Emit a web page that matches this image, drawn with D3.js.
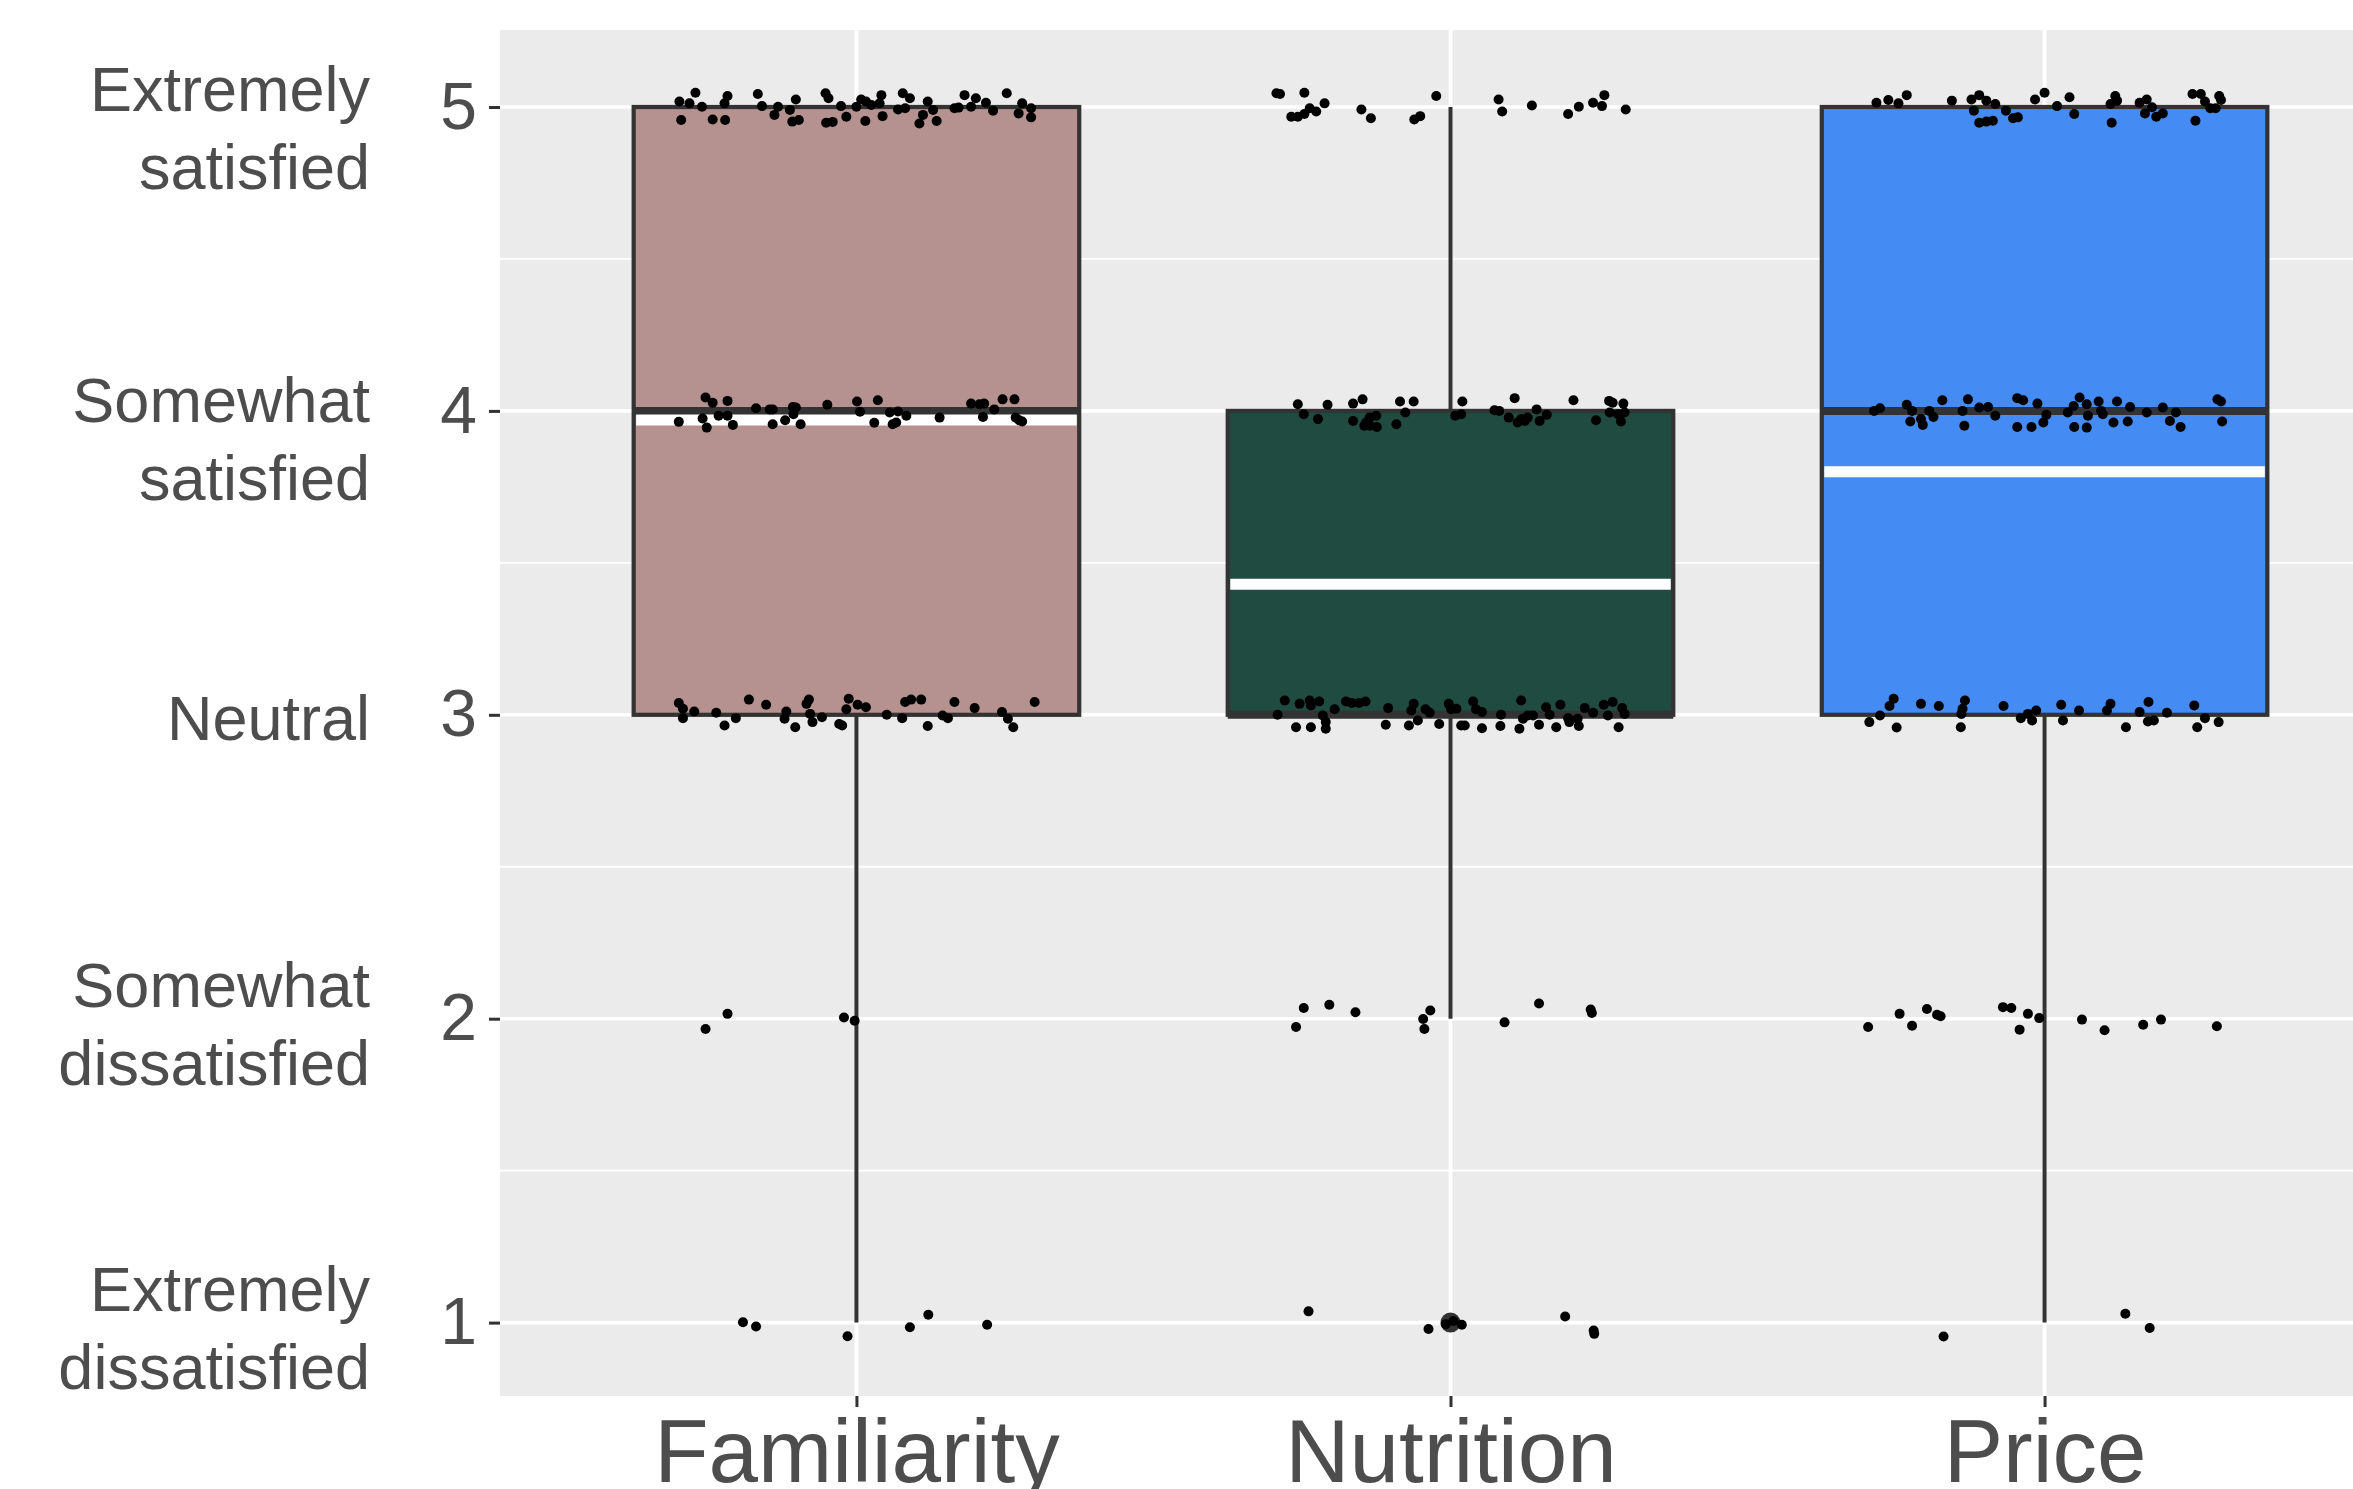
<!DOCTYPE html>
<html><head><meta charset="utf-8">
<script src="https://cdn.jsdelivr.net/npm/d3@7"></script>
<style>
html,body{margin:0;padding:0;background:#fff;overflow:hidden;}
svg{display:block;}
text{font-family:"Liberation Sans",Arial,Helvetica,sans-serif;}
</style>
</head><body>
<svg id="chart" width="2353" height="1489"></svg>
<script>
// ---------------- data ----------------
const categories = ["Familiarity", "Nutrition", "Price"];
const lowerHinge = [3, 3, 3];
const medians    = [4, 3, 4];
const upperHinge = [5, 4, 5];
const whiskerLow = [1, 2, 1];
const whiskerHigh= [5, 5, 5];
const means      = [3.97, 3.43, 3.80];
const outliers   = [[], [1], []];

const yTicks = [1, 2, 3, 4, 5];
const yMinorTicks = [1.5, 2.5, 3.5, 4.5];
const yTickNames = [
  ["Extremely", "dissatisfied"],
  ["Somewhat", "dissatisfied"],
  ["Neutral"],
  ["Somewhat", "satisfied"],
  ["Extremely", "satisfied"]
];

// jittered responses: [horizontal jitter (category units), jittered rating]
const familiarityPoints = [
 [-0.298,5.018],[-0.281,5.012],[-0.271,5.047],[-0.260,5.001],[-0.295,4.957],[-0.242,4.959],[-0.221,4.957],[-0.222,5.012],[-0.217,5.036],[-0.166,5.043],[-0.159,5.003],[-0.138,4.974],[-0.132,5.001],[-0.112,4.990],[-0.102,5.025],[-0.108,4.952],[-0.097,4.957],[-0.052,5.045],[-0.047,5.029],[-0.051,4.948],[-0.040,4.951],[-0.026,5.003],[-0.017,4.968],[0.000,5.001],[0.008,5.025],[0.016,5.018],[0.025,5.007],[0.015,4.954],[0.042,5.039],[0.039,5.012],[0.044,4.970],[0.070,4.992],[0.078,5.045],[0.082,4.996],[0.090,5.029],[0.106,4.946],[0.112,4.974],[0.120,5.018],[0.129,4.990],[0.135,4.954],[0.165,4.996],[0.172,4.998],[0.182,5.039],[0.193,5.001],[0.201,5.029],[0.218,5.014],[0.230,4.988],[0.253,5.045],[0.273,4.979],[0.279,5.012],[0.294,4.996],[0.294,4.966],
 [-0.254,4.044],[-0.242,4.027],[-0.217,4.033],[-0.299,3.964],[-0.259,3.975],[-0.252,3.945],[-0.232,3.984],[-0.217,3.984],[-0.208,3.954],[-0.169,4.009],[-0.146,4.005],[-0.141,4.005],[-0.141,3.956],[-0.120,3.969],[-0.107,4.013],[-0.102,4.011],[-0.106,3.989],[-0.094,3.956],[-0.049,4.020],[0.001,4.031],[0.006,3.997],[0.036,4.035],[0.030,3.961],[0.056,3.995],[0.061,3.956],[0.067,3.962],[0.070,3.998],[0.084,3.984],[0.140,3.978],[0.193,4.024],[0.207,4.022],[0.215,4.024],[0.213,3.980],[0.232,4.005],[0.246,4.038],[0.266,4.038],[0.268,3.978],[0.274,3.969],[0.279,3.965],
 [-0.299,3.039],[-0.292,3.020],[-0.292,2.989],[-0.273,3.011],[-0.236,3.007],[-0.222,2.965],[-0.203,2.989],[-0.181,3.050],[-0.152,3.033],[-0.118,3.011],[-0.121,2.987],[-0.103,2.959],[-0.080,3.050],[-0.084,3.036],[-0.078,3.003],[-0.074,2.976],[-0.058,2.992],[-0.029,2.970],[-0.024,2.965],[-0.013,3.053],[-0.017,3.018],[0.002,3.033],[0.016,3.025],[0.051,3.000],[0.077,2.989],[0.082,3.042],[0.092,3.050],[0.109,3.050],[0.120,2.963],[0.145,2.998],[0.154,2.989],[0.165,3.042],[0.199,3.022],[0.245,3.009],[0.255,2.987],[0.264,2.959],[0.300,3.042],
 [-0.254,1.966],[-0.217,2.016],[-0.021,2.004],[-0.003,1.993],
 [-0.191,1.001],[-0.169,0.987],[-0.015,0.955],[0.090,0.985],[0.121,1.026],[0.220,0.993]
];
const nutritionPoints = [
 [-0.293,5.045],[-0.287,5.043],[-0.246,5.047],[-0.268,4.968],[-0.257,4.968],[-0.246,4.977],[-0.237,4.996],[-0.226,4.985],[-0.212,5.012],[-0.150,4.992],[-0.134,4.963],[-0.061,4.959],[-0.051,4.970],[-0.024,5.036],[0.081,5.025],[0.087,4.985],[0.137,5.005],[0.198,4.977],[0.216,5.001],[0.240,5.014],[0.255,5.003],[0.259,5.039],[0.295,4.992],
 [-0.257,4.022],[-0.247,3.989],[-0.223,3.973],[-0.207,4.020],[-0.164,4.024],[-0.148,4.038],[-0.164,3.967],[-0.142,3.962],[-0.136,3.978],[-0.125,3.984],[-0.145,3.951],[-0.136,3.951],[-0.124,3.947],[-0.091,3.956],[-0.085,4.031],[-0.076,3.995],[-0.062,4.031],[0.008,3.984],[0.018,3.989],[0.020,4.031],[0.074,4.002],[0.082,4.000],[0.098,3.978],[0.108,4.042],[0.113,3.962],[0.119,3.973],[0.125,3.967],[0.130,3.978],[0.145,4.005],[0.150,3.967],[0.162,3.987],[0.207,4.035],[0.245,3.969],[0.267,4.033],[0.273,4.027],[0.291,4.024],[0.268,3.995],[0.282,3.989],[0.293,3.995],[0.287,3.965],
 [-0.279,3.047],[-0.291,3.000],[-0.260,2.959],[-0.254,3.036],[-0.237,3.047],[-0.235,3.031],[-0.221,3.044],[-0.235,2.959],[-0.215,2.998],[-0.210,2.976],[-0.210,2.954],[-0.195,3.018],[-0.176,3.044],[-0.166,3.039],[-0.154,3.039],[-0.143,3.044],[-0.109,2.967],[-0.105,3.022],[-0.070,2.965],[-0.066,3.014],[-0.062,3.036],[-0.055,2.981],[-0.042,3.018],[-0.035,3.007],[-0.019,2.970],[-0.003,3.036],[0.001,3.018],[0.010,3.020],[0.018,2.965],[0.024,2.965],[0.038,3.044],[0.043,3.018],[0.053,3.009],[0.053,2.956],[0.084,2.963],[0.085,3.000],[0.116,2.954],[0.119,3.047],[0.122,2.987],[0.130,2.998],[0.139,2.998],[0.149,2.967],[0.161,3.025],[0.167,3.000],[0.178,2.959],[0.185,3.033],[0.198,2.989],[0.200,2.976],[0.214,2.987],[0.216,2.963],[0.226,3.022],[0.240,3.007],[0.258,3.033],[0.265,2.998],[0.273,3.042],[0.283,2.959],[0.289,3.022],[0.293,3.003],
 [-0.247,2.035],[-0.204,2.046],[-0.160,2.021],[-0.260,1.973],[-0.046,1.999],[-0.034,2.027],[-0.044,1.966],[0.091,1.988],[0.149,2.050],[0.236,2.030],[0.238,2.019],
 [-0.239,1.037],[-0.037,0.979],[0.019,0.993],[0.193,1.020],[0.241,0.974],[0.242,0.963],[0.005,1.005],[-0.008,0.995]
];
const pricePoints = [
 [-0.283,5.014],[-0.263,5.023],[-0.246,5.012],[-0.232,5.039],[-0.156,5.021],[-0.123,5.025],[-0.110,5.039],[-0.119,4.988],[-0.098,5.021],[-0.083,5.010],[-0.065,4.988],[-0.110,4.948],[-0.098,4.952],[-0.087,4.955],[-0.053,4.963],[-0.045,4.966],[-0.016,5.025],[0.000,5.047],[0.021,5.003],[0.042,5.032],[0.050,4.977],[0.111,5.010],[0.119,5.036],[0.122,5.021],[0.113,4.948],[0.160,5.014],[0.172,5.025],[0.169,4.979],[0.181,4.999],[0.188,4.968],[0.199,4.979],[0.249,5.043],[0.263,5.043],[0.270,5.018],[0.279,4.996],[0.288,4.996],[0.294,5.036],[0.297,5.023],[0.254,4.955],
 [-0.287,4.000],[-0.277,4.009],[-0.232,4.020],[-0.223,4.000],[-0.226,3.965],[-0.208,3.973],[-0.205,3.954],[-0.194,4.000],[-0.187,3.980],[-0.172,4.035],[-0.138,4.000],[-0.129,4.038],[-0.135,3.951],[-0.110,4.011],[-0.095,4.013],[-0.083,3.984],[-0.046,4.042],[-0.036,4.035],[-0.012,4.024],[-0.046,3.947],[-0.022,3.947],[-0.002,3.962],[0.003,3.987],[0.039,3.995],[0.049,4.016],[0.059,4.044],[0.071,4.022],[0.073,3.984],[0.050,3.947],[0.071,3.945],[0.091,4.031],[0.095,4.000],[0.098,3.989],[0.122,4.031],[0.116,3.962],[0.140,3.965],[0.144,4.013],[0.172,3.995],[0.199,4.011],[0.221,3.995],[0.211,3.967],[0.229,3.947],[0.291,4.038],[0.297,4.031],[0.299,3.965],
 [-0.295,2.976],[-0.277,2.998],[-0.261,3.029],[-0.254,3.053],[-0.249,2.958],[-0.208,3.036],[-0.178,3.029],[-0.141,2.959],[-0.140,3.003],[-0.138,3.020],[-0.134,3.047],[-0.069,3.029],[-0.040,2.989],[-0.028,3.003],[-0.021,2.981],[-0.014,3.014],[0.028,3.033],[0.031,2.981],[0.058,3.014],[0.105,3.014],[0.111,3.036],[0.137,2.959],[0.160,3.009],[0.175,3.042],[0.174,2.978],[0.184,2.981],[0.206,3.007],[0.252,3.031],[0.257,2.959],[0.270,2.989],[0.293,2.976],
 [-0.297,1.973],[-0.244,2.016],[-0.223,1.977],[-0.198,2.032],[-0.181,2.013],[-0.175,2.008],[-0.070,2.038],[-0.056,2.035],[-0.042,1.964],[-0.028,2.016],[-0.009,2.002],[0.063,1.997],[0.101,1.962],[0.166,1.980],[0.196,1.997],[0.290,1.975],
 [-0.170,0.954],[0.136,1.029],[0.177,0.982]
];
const pointSets = [familiarityPoints, nutritionPoints, pricePoints];

// ---------------- style ----------------
const boxFills = ["#B5918F", "#1F4B40", "#448CF4"];
const boxLine = "#333333";
const panelBg = "#EBEBEB";
const textCol = "#4D4D4D";

// ---------------- layout ----------------
const svg = d3.select("#chart");
const panel = {left: 500, top: 30, bottom: 1396};
const x = d3.scaleLinear().domain([0.4, 3.6]).range([500, 2401]);
const y = d3.scaleLinear().domain([0.7585, 5.2534]).range([panel.bottom, panel.top]);
const unit = x(2) - x(1);
const hw = unit * 0.375;

svg.append("rect").attr("x", panel.left).attr("y", panel.top)
  .attr("width", x(3.6) - panel.left).attr("height", panel.bottom - panel.top)
  .attr("fill", panelBg);

const grid = svg.append("g");
grid.selectAll(".minor").data(yMinorTicks).join("line")
  .attr("x1", panel.left).attr("x2", x(3.6))
  .attr("y1", d => y(d)).attr("y2", d => y(d))
  .attr("stroke", "#fff").attr("stroke-width", 1.8);
grid.selectAll(".major").data(yTicks).join("line")
  .attr("x1", panel.left).attr("x2", x(3.6))
  .attr("y1", d => y(d)).attr("y2", d => y(d))
  .attr("stroke", "#fff").attr("stroke-width", 3.6);
grid.selectAll(".vmajor").data(categories).join("line")
  .attr("x1", (d, i) => x(i + 1)).attr("x2", (d, i) => x(i + 1))
  .attr("y1", panel.top).attr("y2", panel.bottom)
  .attr("stroke", "#fff").attr("stroke-width", 3.8);

// boxes
const boxes = svg.append("g");
categories.forEach((c, i) => {
  const cx = x(i + 1);
  const g = boxes.append("g");
  g.append("line").attr("x1", cx).attr("x2", cx)
    .attr("y1", y(upperHinge[i])).attr("y2", y(whiskerHigh[i]))
    .attr("stroke", boxLine).attr("stroke-width", 4);
  g.append("line").attr("x1", cx).attr("x2", cx)
    .attr("y1", y(lowerHinge[i])).attr("y2", y(whiskerLow[i]))
    .attr("stroke", boxLine).attr("stroke-width", 4);
  g.append("rect").attr("x", cx - hw).attr("width", 2 * hw)
    .attr("y", y(upperHinge[i])).attr("height", y(lowerHinge[i]) - y(upperHinge[i]))
    .attr("fill", boxFills[i]).attr("stroke", boxLine).attr("stroke-width", 4.2);
  g.append("line").attr("x1", cx - hw).attr("x2", cx + hw)
    .attr("y1", y(medians[i])).attr("y2", y(medians[i]))
    .attr("stroke", boxLine).attr("stroke-width", 8);
  g.selectAll(".out").data(outliers[i]).join("circle")
    .attr("cx", cx).attr("cy", d => y(d)).attr("r", 10).attr("fill", boxLine);
  g.append("line").attr("x1", cx - hw + 2.5).attr("x2", cx + hw - 2.5)
    .attr("y1", y(means[i])).attr("y2", y(means[i]))
    .attr("stroke", "#fff").attr("stroke-width", 11);
});

// jittered points
const pts = svg.append("g");
pointSets.forEach((set, i) => {
  pts.append("g").selectAll("circle").data(set).join("circle")
    .attr("cx", d => x(i + 1 + d[0])).attr("cy", d => y(d[1]))
    .attr("r", 5).attr("fill", "#000");
});

// y axis
const yAxis = svg.append("g").attr("transform", `translate(${panel.left},0)`)
  .call(d3.axisLeft(y).tickValues(yTicks).tickSize(11).tickPadding(12).tickFormat(d3.format("d")));
yAxis.select(".domain").remove();
yAxis.selectAll(".tick line").attr("stroke", boxLine).attr("stroke-width", 3);
yAxis.selectAll(".tick text").attr("fill", textCol).attr("font-size", 66)
  .attr("font-family", '"Liberation Sans", Arial, sans-serif');

// rating names
const nameShift = [-12, -12, 25, 11, 4];
const names = svg.append("g");
yTicks.forEach((v, i) => {
  const t = names.append("text").attr("text-anchor", "end")
    .attr("font-size", 63).attr("fill", textCol);
  yTickNames[i].forEach((line, k) => {
    t.append("tspan").attr("x", 370).attr("y", y(v) + nameShift[i] + k * 78).text(line);
  });
});

// x axis
const xAxis = svg.append("g").attr("transform", `translate(0,${panel.bottom})`)
  .call(d3.axisBottom(x).tickValues([1, 2, 3]).tickSize(11).tickPadding(12)
    .tickFormat(d => categories[d - 1]));
xAxis.select(".domain").remove();
xAxis.selectAll(".tick line").attr("stroke", boxLine).attr("stroke-width", 3);
xAxis.selectAll(".tick text").attr("fill", textCol).attr("font-size", 89)
  .attr("font-family", '"Liberation Sans", Arial, sans-serif');
</script>
</body></html>
